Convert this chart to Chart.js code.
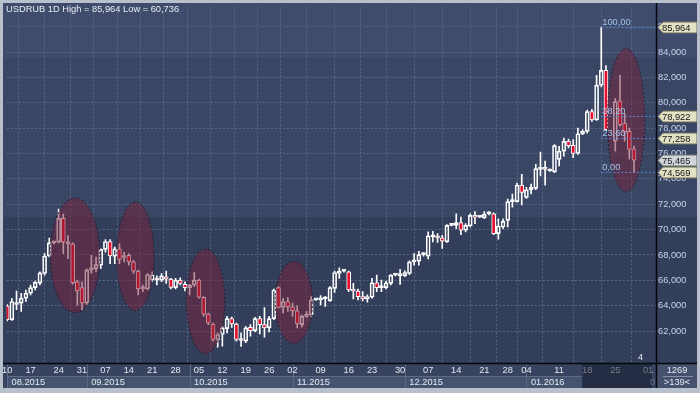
<!DOCTYPE html>
<html>
<head>
<meta charset="utf-8">
<script src="https://cdn.jsdelivr.net/npm/chart.js@4.4.1/dist/chart.umd.min.js"></script>
<style>
  html, body { margin: 0; padding: 0; background: #b8c0cb; }
  canvas { display: block; }
</style>
</head>
<body>
<canvas id="chart" width="700" height="393"></canvas>
<script>
// USDRUB daily bars, 10.08.2015 .. 29.01.2016 (bar slot index, O/H/L/C)
const candleIdx = [
    0, 1, 2, 3, 4, 5, 6, 7, 8, 9, 10, 11, 12, 13, 14, 15, 16, 17, 18, 19,
    20, 21, 22, 23, 24, 25, 26, 27, 28, 29, 30, 31, 32, 33, 34, 35, 36, 37, 38, 39,
    40, 41, 42, 43, 44, 45, 46, 47, 48, 49, 50, 51, 52, 53, 54, 55, 56, 57, 58, 59,
    60, 61, 62, 63, 64, 65, 66, 67, 68, 69, 70, 71, 72, 73, 74, 75, 76, 77, 78, 79,
    80, 81, 82, 83, 84, 85, 86, 87, 88, 89, 90, 91, 92, 93, 94, 95, 96, 97, 98, 99,
    100, 101, 102, 103, 104, 105, 106, 107, 108, 109, 110, 111, 112, 113, 114, 115, 116, 117, 118, 119,
    120, 121, 122, 123, 124, 125, 126, 127, 128, 130, 131, 132, 133, 134
];
const opens = [
    63994, 62902, 64100, 64202, 64592, 64982, 65424, 65788, 66542, 67920, 68960, 69012, 70884, 68960, 68882, 65892, 65424, 64202, 66802, 66932,
    67192, 68440, 69064, 67894, 68492, 67842, 67972, 67452, 66724, 65400, 65320, 66022, 66050, 66022, 66282, 66100, 65424, 66022, 65684, 65424,
    65632, 66022, 64670, 63344, 62564, 61342, 61732, 62200, 62980, 62564, 61300, 61212, 62304, 62044, 62980, 62512, 62252, 62980, 65424, 63864,
    64332, 63916, 63604, 62512, 63162, 63292, 64462, 64462, 64540, 64384, 65372, 66542, 66724, 66672, 65320, 65164, 64722, 64540, 64670, 65814,
    65424, 65424, 65762, 66412, 66360, 66360, 66542, 67452, 67504, 68024, 67900, 69430, 69430, 69352, 69040, 70339, 70339, 70547, 69950, 70287,
    71118, 70988, 70936, 71248, 71248, 69690, 70209, 70729, 72209, 72209, 73507, 72547, 73144, 73248, 74754, 74780, 74624, 74546, 75533, 76182,
    76961, 76650, 76000, 77559, 77741, 79305, 78656, 81380, 82547, 76970, 80161, 78397, 77748, 76374
];
const highs = [
    64100, 64592, 65164, 64982, 65242, 65632, 65944, 66672, 68102, 69324, 69064, 71612, 71222, 69532, 68960, 66022, 65892, 66900, 67972, 67842,
    68492, 69220, 69220, 68622, 68882, 68232, 68102, 67582, 66802, 65632, 66542, 66672, 66360, 66542, 66724, 66152, 66152, 66204, 65892, 65684,
    66620, 66100, 64722, 63422, 62642, 61862, 62382, 63162, 63100, 62642, 61862, 62382, 62512, 63084, 63162, 63864, 63162, 65320, 65502, 64592,
    64644, 64202, 64020, 63292, 63552, 64722, 64550, 64800, 64722, 65502, 66724, 66984, 66800, 66724, 65762, 65320, 65112, 64852, 66152, 66412,
    66022, 65944, 66464, 66500, 66880, 66750, 67550, 68102, 68284, 68200, 69820, 69872, 69690, 69560, 70391, 70450, 71248, 70988, 70469, 71248,
    71430, 71050, 71430, 71430, 71326, 70858, 70858, 72417, 72806, 73663, 74364, 73326, 73585, 75144, 76104, 75403, 74800, 76702, 76572, 77222,
    77143, 77091, 78000, 77870, 79429, 79486, 82158, 85964, 82936, 80342, 82158, 79175, 78008, 76581
];
const lows = [
    62800, 62850, 63682, 63552, 64332, 64852, 65242, 65632, 66412, 67842, 68882, 68960, 68102, 67712, 65700, 64020, 63682, 64100, 66542, 66672,
    66932, 68232, 67322, 67322, 67322, 67452, 67192, 66542, 64852, 65112, 65242, 65892, 65632, 65892, 65762, 65320, 65320, 65632, 65164, 64852,
    65502, 64592, 63162, 62512, 61212, 60736, 60822, 61862, 62300, 61212, 60800, 61082, 61602, 61940, 61784, 61524, 61940, 62902, 63812, 63422,
    63552, 63162, 62252, 62304, 63084, 63162, 64420, 64072, 63942, 64332, 65060, 66152, 66650, 65112, 64540, 64462, 64384, 64280, 64592, 65112,
    65112, 65320, 65632, 66350, 65684, 66300, 66450, 67192, 67192, 67900, 67700, 69040, 68988, 68521, 68988, 70300, 70079, 69612, 69820, 70209,
    70469, 70950, 70858, 71150, 69612, 69248, 70079, 70209, 71767, 72157, 71949, 72469, 72806, 73144, 74235, 73507, 74580, 74494, 75014, 75793,
    76442, 75663, 75923, 77481, 77611, 78527, 78604, 81250, 77826, 76192, 78138, 76970, 75544, 74569
];
const closes = [
    62902, 64332, 64202, 64592, 64982, 65424, 65840, 66594, 67920, 68960, 69012, 70884, 69012, 68882, 65814, 65164, 64202, 66802, 66984, 67244,
    68440, 69064, 67920, 68492, 67660, 67800, 67452, 66724, 65320, 65320, 66464, 66412, 66022, 66360, 66100, 65450, 66022, 65762, 65424, 65632,
    66022, 64670, 63344, 62642, 61342, 61732, 62252, 62980, 62564, 61342, 61264, 62252, 62044, 62980, 62512, 62252, 62980, 65242, 63864, 64332,
    63916, 63604, 62564, 63162, 63344, 64462, 64500, 64592, 64560, 65424, 66620, 66724, 66750, 65242, 65164, 64722, 64540, 64722, 65814, 65424,
    65450, 65814, 66412, 66430, 66542, 66620, 67452, 67582, 68024, 68050, 69508, 69460, 69352, 69092, 70339, 70391, 70547, 69950, 70339, 71118,
    70988, 71000, 71196, 71260, 69690, 70287, 70651, 72209, 72230, 73507, 72936, 73144, 73326, 74806, 74780, 74754, 74754, 76624, 76182, 76961,
    76624, 76000, 77559, 77741, 79299, 78656, 81380, 82547, 77878, 80083, 78267, 77671, 76322, 75465
];

// axis labels
const dayTickIdx = [0, 5, 11, 16, 21, 26, 31, 36, 41, 46, 51, 56, 61, 67, 73, 78, 84, 90, 96, 102, 107, 111, 118, 124, 130, 137];
const dayTickLabels = ['10', '17', '24', '31', '07', '14', '21', '28', '05', '12', '19', '26', '02', '09', '16', '23', '30', '07', '14', '21', '28', '04', '11', '18', '25', '01'];
const monthStartIdx = [-0.1, 17, 39, 61, 85, 111];
const monthLabels = ['08.2015', '09.2015', '10.2015', '11.2015', '12.2015', '01.2016'];
const monthEndIdx = 123;
const priceTicks = [62000, 64000, 66000, 68000, 70000, 72000, 74000, 76000, 78000, 80000, 82000, 84000, 86000];

// fibonacci retracement from the high bar to the last low
const fibHigh = 85964;
const fibLow = 74569;
const fibStartIdx = 127;
const fibLevels = [100, 38.2, 23.6, 0];

// price markers on the right scale
const markValues = [85964, 78922, 77258, 75465, 74569];
const markFills = ['#e2e1c3', '#e2e1c3', '#e2e1c3', '#d0d4dc', '#e2e1c3'];

// highlighted zones (centre bar, centre price, half width in bars, half height in price)
const zoneIdx = [14.5, 27.4, 42.4, 61.3, 132.3];
const zonePrice = [67969, 67892, 64350, 64273, 78630];
const zoneHalfBars = [5.3, 4.0, 4.1, 4.0, 4.0];
const zoneHalfPrice = [4514, 4280, 4125, 3230, 5642];

const FONT = '"Liberation Sans", Arial, sans-serif';
Chart.defaults.font.family = FONT;
Chart.defaults.font.size = 9.3;

const upperWick = candleIdx.map((x, i) => ({ x: x, y: [Math.max(opens[i], closes[i]), highs[i]] }));
const lowerWick = candleIdx.map((x, i) => ({ x: x, y: [lows[i], Math.min(opens[i], closes[i])] }));
const bodies = candleIdx.map((x, i) => ({ x: x, y: [opens[i], closes[i]] }));
const bodyFill = candleIdx.map((x, i) => closes[i] >= opens[i] ? 'rgba(0,0,0,0)' : '#e8102c');

function fmt(v) {
    return v.toLocaleString('en-US');
}

const terminalLook = {
    id: 'terminalLook',
    beforeDraw(chart) {
        const ctx = chart.ctx;
        ctx.save();
        ctx.fillStyle = '#b8c0cb';
        ctx.fillRect(0, 0, 700, 393);
        // background bands
        ctx.fillStyle = '#3f4c6b';
        ctx.fillRect(3, 3, 694, 55);
        ctx.fillStyle = '#394664';
        ctx.fillRect(3, 58, 694, 159);
        ctx.fillStyle = '#323e5a';
        ctx.fillRect(3, 217, 694, 146);
        // bottom axis rows
        ctx.fillStyle = '#37435f';
        ctx.fillRect(3, 363, 694, 25);
        const xs = chart.scales.x;
        for (let m = 0; m < monthLabels.length; m++) {
            const x0 = Math.round(xs.getPixelForValue(monthStartIdx[m]));
            const x1 = Math.round(xs.getPixelForValue(m + 1 < monthLabels.length ? monthStartIdx[m + 1] : monthEndIdx));
            ctx.fillStyle = '#46536f';
            ctx.fillRect(x0, 376, x1 - x0, 12);
            ctx.strokeStyle = '#5c6987';
            ctx.lineWidth = 1;
            ctx.beginPath();
            ctx.moveTo(x0 + 0.5, 364);
            ctx.lineTo(x0 + 0.5, 388);
            ctx.moveTo(x0, 376.5);
            ctx.lineTo(x1, 376.5);
            ctx.stroke();
        }
        ctx.fillStyle = '#45516d';
        ctx.fillRect(657, 364, 40, 24);
        ctx.restore();
    },
    afterDatasetsDraw(chart) {
        const ctx = chart.ctx;
        const xs = chart.scales.x, ys = chart.scales.y;
        const area = chart.chartArea;
        ctx.save();
        ctx.beginPath();
        ctx.rect(area.left, area.top, area.right - area.left, area.bottom - area.top);
        ctx.clip();
        // zones
        for (let k = 0; k < zoneIdx.length; k++) {
            const cx = xs.getPixelForValue(zoneIdx[k]);
            const cy = ys.getPixelForValue(zonePrice[k]);
            const rx = xs.getPixelForValue(zoneIdx[k] + zoneHalfBars[k]) - cx;
            const ry = cy - ys.getPixelForValue(zonePrice[k] + zoneHalfPrice[k]);
            ctx.beginPath();
            ctx.ellipse(cx, cy, rx, ry, 0, 0, Math.PI * 2);
            ctx.fillStyle = 'rgba(122, 34, 58, 0.5)';
            ctx.fill();
            ctx.setLineDash([2, 2]);
            ctx.strokeStyle = 'rgba(30, 26, 44, 0.8)';
            ctx.lineWidth = 1;
            ctx.stroke();
            ctx.setLineDash([]);
        }
        // fibonacci levels
        const fx = xs.getPixelForValue(fibStartIdx);
        ctx.font = '9.3px ' + FONT;
        ctx.textBaseline = 'alphabetic';
        ctx.textAlign = 'left';
        fibLevels.forEach(lvl => {
            const y = Math.round(ys.getPixelForValue(fibLow + (fibHigh - fibLow) * lvl / 100)) + 0.5;
            ctx.strokeStyle = '#5384cc';
            ctx.setLineDash([2, 2]);
            ctx.beginPath();
            ctx.moveTo(fx, y);
            ctx.lineTo(area.right, y);
            ctx.stroke();
            ctx.setLineDash([]);
            ctx.fillStyle = '#a4c4ef';
            ctx.fillText(lvl.toFixed(2).replace('.', ','), fx + 1, y - 2.5);
        });
        ctx.fillStyle = '#e4e9f1';
        ctx.fillText('4', 638, 360);
        ctx.restore();
    },
    afterDraw(chart) {
        const ctx = chart.ctx;
        const xs = chart.scales.x, ys = chart.scales.y;
        ctx.save();
        ctx.font = '9.3px ' + FONT;
        // month labels
        ctx.fillStyle = '#e4e9f1';
        ctx.textBaseline = 'middle';
        ctx.textAlign = 'left';
        for (let m = 0; m < monthLabels.length; m++) {
            const x0 = Math.max(xs.getPixelForValue(monthStartIdx[m]), 7);
            ctx.fillText(monthLabels[m], x0 + 4.5, 382.5);
        }
        // scroll window shade
        ctx.fillStyle = 'rgba(22, 28, 46, 0.55)';
        ctx.fillRect(582, 364, 70, 24);
        ctx.fillStyle = '#6d7991';
        ctx.fillText('0', 650, 382.5);
        // axis lines
        ctx.strokeStyle = '#05070c';
        ctx.lineWidth = 1.5;
        ctx.beginPath();
        ctx.moveTo(3, 363.5);
        ctx.lineTo(697, 363.5);
        ctx.moveTo(656.5, 3);
        ctx.lineTo(656.5, 388);
        ctx.stroke();
        // bar counters
        ctx.fillStyle = '#e4e9f1';
        ctx.textAlign = 'center';
        ctx.fillText('1269', 677, 370);
        ctx.fillText('>139<', 677, 382.5);
        ctx.strokeStyle = '#8692aa';
        ctx.lineWidth = 1;
        ctx.beginPath();
        ctx.moveTo(663, 376.5);
        ctx.lineTo(693, 376.5);
        ctx.stroke();
        // price markers
        ctx.textAlign = 'left';
        markValues.forEach((v, k) => {
            const y = Math.round(ys.getPixelForValue(v)) + 0.5;
            ctx.beginPath();
            ctx.moveTo(658, y);
            ctx.lineTo(663, y - 5.5);
            ctx.lineTo(697, y - 5.5);
            ctx.lineTo(697, y + 5.5);
            ctx.lineTo(663, y + 5.5);
            ctx.closePath();
            ctx.fillStyle = markFills[k];
            ctx.fill();
            ctx.strokeStyle = '#6e6e5e';
            ctx.stroke();
            ctx.fillStyle = '#151515';
            ctx.fillText(fmt(v), 662, y + 0.5);
        });
        // title
        ctx.fillStyle = '#e8ecf3';
        ctx.fillText('USDRUB 1D High = ' + fmt(fibHigh) + ' Low = ' + fmt(Math.min(...lows)), 6, 9);
        // window frame
        ctx.fillStyle = '#b8c0cb';
        ctx.fillRect(0, 0, 700, 3);
        ctx.fillRect(0, 0, 3, 393);
        ctx.fillRect(697, 0, 3, 393);
        ctx.fillRect(0, 388, 700, 5);
        ctx.restore();
    }
};

new Chart(document.getElementById('chart'), {
    type: 'bar',
    data: {
        datasets: [
            {
                data: upperWick,
                backgroundColor: '#ffffff',
                borderWidth: 0,
                barThickness: 1,
                grouped: false
            },
            {
                data: lowerWick,
                backgroundColor: '#ffffff',
                borderWidth: 0,
                barThickness: 1,
                grouped: false
            },
            {
                data: bodies,
                backgroundColor: bodyFill,
                borderColor: '#ffffff',
                borderWidth: 1,
                borderSkipped: false,
                barThickness: 4,
                minBarLength: 2,
                grouped: false
            }
        ]
    },
    plugins: [terminalLook],
    options: {
        responsive: false,
        animation: false,
        devicePixelRatio: 1,
        layout: {
            autoPadding: false,
            padding: { left: 3, top: 3, right: 3, bottom: 5 }
        },
        plugins: {
            legend: { display: false },
            tooltip: { enabled: false },
            title: { display: false }
        },
        scales: {
            x: {
                type: 'linear',
                min: -0.1,
                max: 138.7,
                offset: false,
                afterFit: s => { s.height = 25; },
                afterBuildTicks: s => { s.ticks = dayTickIdx.map(v => ({ value: v })); },
                grid: { color: '#5a6887', lineWidth: 1, drawTicks: false },
                border: { display: false, dash: [2, 2] },
                ticks: {
                    autoSkip: false,
                    maxRotation: 0,
                    padding: 2,
                    color: '#e4e9f1',
                    callback: v => dayTickLabels[dayTickIdx.indexOf(v)]
                }
            },
            y: {
                type: 'linear',
                position: 'right',
                min: 59487,
                max: 87502,
                afterFit: s => { s.width = 41; },
                afterBuildTicks: s => { s.ticks = priceTicks.map(v => ({ value: v })); },
                grid: { color: '#5a6887', lineWidth: 1, drawTicks: false },
                border: { display: false, dash: [2, 2] },
                ticks: {
                    padding: 2,
                    color: '#c6d3ea',
                    callback: v => fmt(v)
                }
            }
        }
    }
});
</script>
</body>
</html>
